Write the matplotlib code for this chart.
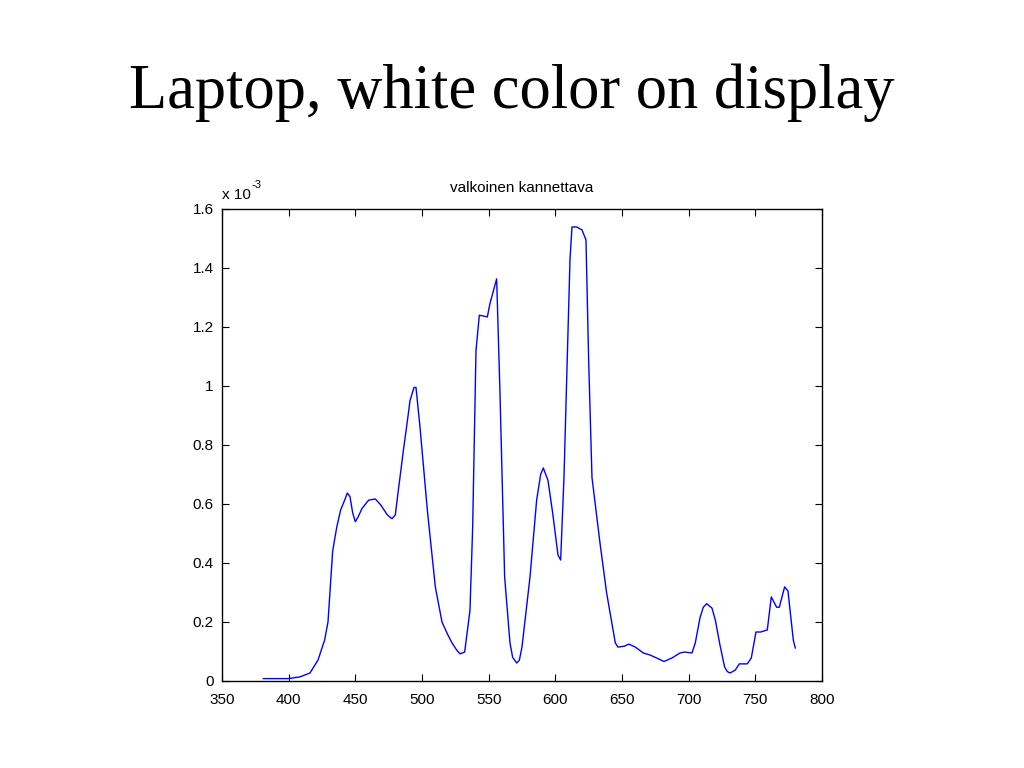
import matplotlib.pyplot as plt
from matplotlib.ticker import FuncFormatter

# spectrum, values in units of 1e-3
wavelength = [381, 390, 400, 408.5, 416, 422, 427, 429.5, 433, 436, 439, 442,
              444, 446, 448, 450, 452, 455, 460, 465, 469, 474, 477.5, 480,
              482, 486, 489, 491, 494, 495.5, 498.5, 504, 510, 515, 519,
              522.5, 526, 528.5, 532, 536, 538, 540.5, 543, 549, 551, 556,
              558.5, 562, 566, 568, 571, 573, 575, 581, 586, 589, 591, 594.5,
              598, 602, 604, 606.5, 611, 612.5, 616, 620, 623, 625, 627.5,
              633.5, 638.5, 645, 647, 652, 655, 660, 666, 671, 676, 681.5,
              687.5, 693.5, 697, 702.5, 705, 708.5, 711, 713.5, 717.5, 720,
              723.5, 727, 729, 731, 735, 738, 744, 747, 750.5, 754, 759, 762,
              766, 768, 772, 774.5, 778.5, 780]
power = [0.008, 0.008, 0.008, 0.014, 0.027, 0.071, 0.139, 0.2, 0.44, 0.52,
         0.58, 0.613, 0.637, 0.625, 0.57, 0.54, 0.555, 0.585, 0.613, 0.617,
         0.597, 0.563, 0.55, 0.563, 0.637, 0.78, 0.88, 0.95, 0.995, 0.995,
         0.861, 0.58, 0.319, 0.2, 0.16, 0.129, 0.105, 0.092, 0.098, 0.24,
         0.52, 1.12, 1.24, 1.234, 1.28, 1.363, 0.976, 0.352, 0.129, 0.08,
         0.061, 0.07, 0.115, 0.352, 0.613, 0.7, 0.722, 0.68, 0.57, 0.427,
         0.41, 0.69, 1.427, 1.539, 1.539, 1.529, 1.495, 1.088, 0.69, 0.468,
         0.298, 0.129, 0.115, 0.118, 0.125, 0.115, 0.095, 0.088, 0.078,
         0.066, 0.078, 0.095, 0.098, 0.095, 0.129, 0.214, 0.25, 0.262, 0.247,
         0.207, 0.122, 0.047, 0.032, 0.027, 0.037, 0.058, 0.058, 0.078,
         0.166, 0.166, 0.173, 0.285, 0.25, 0.25, 0.319, 0.305, 0.139, 0.112]

x_ticks = [350, 400, 450, 500, 550, 600, 650, 700, 750, 800]
y_ticks = [0, 0.2, 0.4, 0.6, 0.8, 1.0, 1.2, 1.4, 1.6]

plt.rcParams['font.family'] = 'Liberation Sans'

fig = plt.figure(figsize=(10.24, 7.68), dpi=100)
fig.text(0.5, 0.86, 'Laptop, white color on display', ha='center',
         va='baseline', fontsize=45, family='Liberation Serif')

ax = fig.add_axes([0.2168, 0.1133, 0.5859, 0.6146])
ax.plot(wavelength, power, color='#0000ff', linewidth=1.0)

ax.set_xlim(350, 800)
ax.set_ylim(0, 1.6)
ax.set_xticks(x_ticks)
ax.set_yticks(y_ticks)
ax.yaxis.set_major_formatter(FuncFormatter(lambda v, p: '%g' % round(v, 2)))
ax.tick_params(direction='in', top=True, right=True, labelsize=11,
               length=5, width=0.8)
ax.tick_params(axis='x', pad=9)
ax.tick_params(axis='y', pad=6)
for s in ax.spines.values():
    s.set_linewidth(1.0)

ax.set_title('valkoinen kannettava', fontsize=11, pad=12)
# MATLAB style exponent label
ax.text(0.0, 1.014, 'x 10', transform=ax.transAxes,
        fontsize=11, ha='left', va='bottom')
ax.text(0.0495, 1.04, '-3', transform=ax.transAxes,
        fontsize=8, ha='left', va='bottom')

plt.savefig('out.png', dpi=100)
